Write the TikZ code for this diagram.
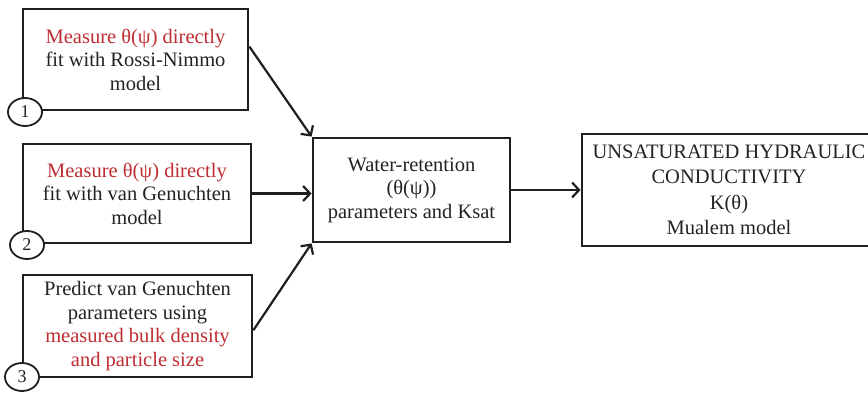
\documentclass[tikz,border=0pt]{standalone}
\usepackage{fontspec}
\setmainfont{Liberation Serif}
\usetikzlibrary{arrows.meta,shapes.geometric,calc}
\definecolor{myred}{RGB}{190,45,50}
\definecolor{mytext}{RGB}{35,35,35}
\tikzset{
  boxnode/.style={draw=black!88, line width=2.8pt, rectangle, inner sep=0pt, align=center,
    text=mytext, font=\fontsize{20.5}{23.5}\selectfont},
  numnode/.style={draw=black!88, line width=1.8pt, ellipse, fill=white, inner sep=0pt,
    minimum width=34pt, minimum height=28pt, text=mytext, font=\fontsize{18}{20}\selectfont},
  flowarrow/.style={draw=black!88, line width=2.2pt, -{Straight Barb[length=7pt,width=15pt,line width=2.2pt]}}
}
\begin{document}
\begin{tikzpicture}[x=1pt,y=-1pt]
\useasboundingbox (0,0) rectangle (868,393);
\begin{scope}
\clip (0,0) rectangle (868,393);
\node[boxnode, minimum width=225pt, minimum height=101pt] (b1) at (135.5,59.5)
  {{\color{myred}Measure θ(ψ) directly}\\fit with Rossi-Nimmo\\model};
\node[boxnode, minimum width=228pt, minimum height=99pt] (b2) at (137,193.5)
  {{\color{myred}Measure θ(ψ) directly}\\fit with van Genuchten\\model};
\node[boxnode, minimum width=229pt, minimum height=102pt] (b3) at (137.5,326)
  {Predict van Genuchten\\parameters using\\{\color{myred}measured bulk density}\\{\color{myred}and particle size}};
\node[boxnode, minimum width=197pt, minimum height=104pt] (c) at (411.5,190)
  {Water-retention\\(θ(ψ))\\parameters and Ksat};
\node[boxnode, minimum width=294pt, minimum height=112pt, font=\fontsize{20.5}{25.5}\selectfont] (r) at (729,190)
  {UNSATURATED HYDRAULIC\\CONDUCTIVITY\\K(θ)\\Mualem model};
\node[numnode] (n1) at (25,112) {1};
\node[numnode] (n2) at (27,245) {2};
\node[numnode] (n3) at (22,377) {3};
\coordinate (s1) at ($(b1.north east)!0.376!(b1.south east)$);
\coordinate (s3) at ($(b3.north east)!0.54!(b3.south east)$);
\draw[flowarrow] (s1) -- (c.north west);
\draw[flowarrow] (b2.east) -- (b2.east -| c.west);
\draw[flowarrow] (s3) -- (c.south west);
\draw[flowarrow] (c.east) -- (c.east -| r.west);
\end{scope}
\end{tikzpicture}
\end{document}
